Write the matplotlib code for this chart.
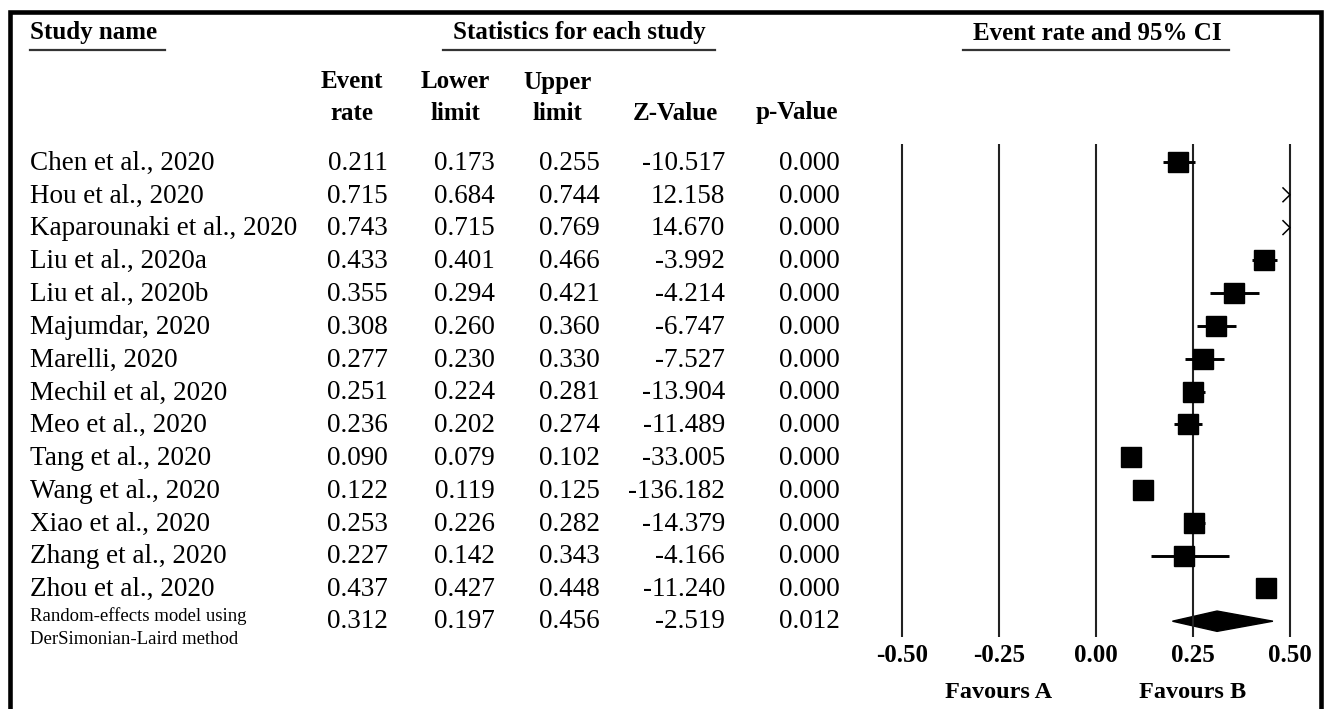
import numpy as np
import matplotlib
matplotlib.use("Agg")
import matplotlib.pyplot as plt
import matplotlib.transforms as mtransforms
from matplotlib.lines import Line2D
from matplotlib.patches import Rectangle, Polygon

# Study-level data
studies = ["Chen et al., 2020", "Hou et al., 2020", "Kaparounaki et al., 2020",
           "Liu et al., 2020a", "Liu et al., 2020b", "Majumdar, 2020", "Marelli, 2020",
           "Mechil et al, 2020", "Meo et al., 2020", "Tang et al., 2020",
           "Wang et al., 2020", "Xiao et al., 2020", "Zhang et al., 2020",
           "Zhou et al., 2020"]
event_rate = [0.211, 0.715, 0.743, 0.433, 0.355, 0.308, 0.277, 0.251, 0.236,
              0.090, 0.122, 0.253, 0.227, 0.437]
lower_limit = [0.173, 0.684, 0.715, 0.401, 0.294, 0.260, 0.230, 0.224, 0.202,
               0.079, 0.119, 0.226, 0.142, 0.427]
upper_limit = [0.255, 0.744, 0.769, 0.466, 0.421, 0.360, 0.330, 0.281, 0.274,
               0.102, 0.125, 0.282, 0.343, 0.448]
z_value = [-10.517, 12.158, 14.670, -3.992, -4.214, -6.747, -7.527, -13.904,
           -11.489, -33.005, -136.182, -14.379, -4.166, -11.240]
p_value = [0.000] * 14

# pooled random-effects estimate
pooled_label = ["Random-effects model using", "DerSimonian-Laird method"]
pooled = {"rate": 0.312, "lower": 0.197, "upper": 0.456, "z": -2.519, "p": 0.012}

ticks = [-0.50, -0.25, 0.00, 0.25, 0.50]
tick_labels = ["-0.50", "-0.25", "0.00", "0.25", "0.50"]

W, H = 1325, 709
SERIF = ["Liberation Serif", "DejaVu Serif"]
plt.rcParams["font.family"] = SERIF

fig = plt.figure(figsize=(W / 100, H / 100), dpi=100)

# forest panel, placed so -0.5..0.5 spans pixels 902..1290 and rows start at y=162
unit = 388.0
row_h = 32.8
ax_l, ax_r, ax_t, ax_b = 870, 1318, 140, 640
ax = fig.add_axes([ax_l / W, 1 - ax_b / H, (ax_r - ax_l) / W, (ax_b - ax_t) / H])
ax.set_xlim(-0.5 - (902 - ax_l) / unit, 0.5 + (ax_r - 1290) / unit)
ax.set_ylim((ax_b - 162) / row_h, (ax_t - 162) / row_h)
for s in ax.spines.values():
    s.set_visible(False)
ax.set_yticks([])
ax.set_xticks(ticks)
ax.set_xticklabels(tick_labels, fontsize=18, fontweight="bold")
ax.tick_params(axis="x", length=0, pad=3)

ax.vlines(ticks, (144 - 162) / row_h, (637 - 162) / row_h, color="#222222", lw=1.5)

xmax = ticks[-1]
rows = np.arange(len(studies))
for r, est, lo, hi in zip(rows, event_rate, lower_limit, upper_limit):
    if lo > xmax:
        # whole interval off the scale: draw a small chevron at the edge
        d = 7 / unit
        ax.plot([xmax - d, xmax, xmax - d], [r - 0.21, r, r + 0.21], color="black", lw=1.1)
        continue
    ax.plot([lo, min(hi, xmax)], [r, r], color="black", lw=2.1, solid_capstyle="butt")
    ax.plot(est, r, marker="s", ms=14, color="black", mec="black")

# pooled diamond
pr = len(studies)
dh = 0.31
ax.add_patch(Polygon([[pooled["lower"], pr], [pooled["rate"], pr - dh],
                      [pooled["upper"], pr], [pooled["rate"], pr + dh]],
                     closed=True, fc="black", ec="black", lw=1))

# favours labels
fav_tr = mtransforms.blended_transform_factory(ax.transData, fig.transFigure)
ax.text(-0.25, 1 - 692 / H, "Favours A", transform=fav_tr, ha="center", va="center",
        fontsize=17.5, fontweight="bold")
ax.text(0.25, 1 - 692 / H, "Favours B", transform=fav_tr, ha="center", va="center",
        fontsize=17.5, fontweight="bold")

# table text, rows aligned with forest rows
row_tr = mtransforms.blended_transform_factory(fig.transFigure, ax.transData)
col_right = [388, 495, 600, 725, 840]
fs = 19.5
for r in rows:
    fig.text(30 / W, r + 0.04, studies[r], transform=row_tr, ha="left", va="center", fontsize=fs)
    vals = ["%.3f" % event_rate[r], "%.3f" % lower_limit[r], "%.3f" % upper_limit[r],
            "%.3f" % z_value[r], "%.3f" % p_value[r]]
    for x, v in zip(col_right, vals):
        fig.text(x / W, r + 0.04, v, transform=row_tr, ha="right", va="center", fontsize=fs)

pvals = ["%.3f" % pooled[k] for k in ["rate", "lower", "upper", "z", "p"]]
for x, v in zip(col_right, pvals):
    fig.text(x / W, pr, v, transform=row_tr, ha="right", va="center", fontsize=fs)
fig.text(30 / W, 1 - 616 / H, pooled_label[0], ha="left", va="center", fontsize=13.5)
fig.text(30 / W, 1 - 639 / H, pooled_label[1], ha="left", va="center", fontsize=13.5)

# headers
hfs = 18
fig.text(30 / W, 1 - 33 / H, "Study name", ha="left", va="center", fontsize=hfs, fontweight="bold")
fig.text(579 / W, 1 - 33 / H, "Statistics for each study", ha="center", va="center",
         fontsize=hfs, fontweight="bold")
fig.text(1097 / W, 1 - 33 / H, "Event rate and 95% CI", ha="center", va="center",
         fontsize=hfs, fontweight="bold")
for x0, x1 in [(30, 165), (443, 715), (963, 1229)]:
    fig.add_artist(Line2D([x0 / W, x1 / W], [1 - 50 / H, 1 - 50 / H],
                          transform=fig.transFigure, color="#333333", lw=1.6))

col_heads = [(352, "Event", "rate"), (455, "Lower", "limit"), (557, "Upper", "limit"),
             (675, "", "Z-Value"), (797, "", "p-Value")]
for x, top, bot in col_heads:
    if top:
        fig.text(x / W, 1 - 82 / H, top, ha="center", va="center", fontsize=hfs, fontweight="bold")
    fig.text(x / W, 1 - 113 / H, bot, ha="center", va="center", fontsize=hfs, fontweight="bold")

# outer frame (bottom edge falls outside the image)
fig.add_artist(Rectangle((10.5 / W, -0.1), (1320.5 - 10.5) / W, 1 - 11.7 / H + 0.1,
                         transform=fig.transFigure, fill=False, ec="black", lw=3.3))

fig.savefig("out.png", dpi=100)
